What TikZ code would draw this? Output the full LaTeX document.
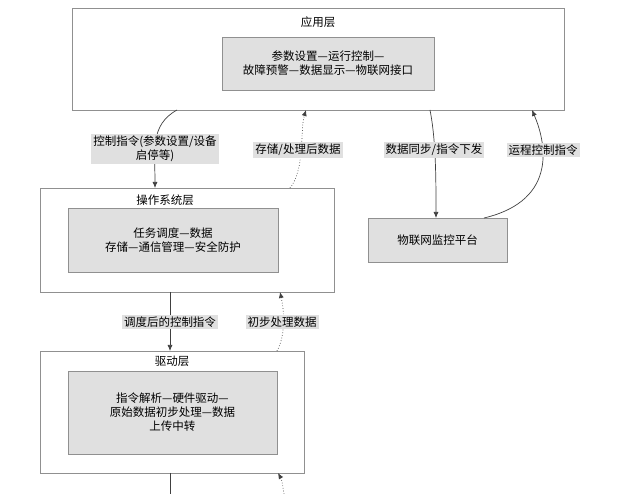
\documentclass[tikz,border=0pt]{standalone}
\usepackage{fontspec}
\setmainfont{Noto Sans CJK SC}
\usetikzlibrary{arrows.meta,calc}
\definecolor{boxgray}{HTML}{E0E0E0}
\definecolor{linegray}{HTML}{909090}
\tikzset{
  layer/.style={draw=linegray,fill=white,line width=0.8pt},
  core/.style={draw=linegray,fill=boxgray,line width=0.8pt,align=center,inner sep=0pt},
  tag/.style={fill=boxgray,inner sep=2pt,align=center},
  flow/.style={-{Latex[length=6pt,width=5pt]},line width=0.7pt,draw=black!75},
  back/.style={flow,dotted}
}
\begin{document}
\begin{tikzpicture}[x=1pt,y=-1pt,font=\fontsize{11.5}{14}\selectfont]
  \useasboundingbox (0,0) rectangle (630,494);
  % layers
  \draw[layer] (72,8) rectangle (564,110);
  \node (app) at (318,22) {应用层};
  \node[core,minimum width=212pt,minimum height=53pt] (appc) at (328,63.5) {参数设置—运行控制—\\故障预警—数据显示—物联网接口};
  \draw[layer] (40,188) rectangle (334,292);
  \node (os) at (165,200) {操作系统层};
  \node[core,minimum width=210pt,minimum height=64pt] (osc) at (173,240) {任务调度—数据\\存储—通信管理—安全防护};
  \draw[layer] (40,351) rectangle (304,473);
  \node (drv) at (172,361) {驱动层};
  \node[core,minimum width=209pt,minimum height=83pt] (drvc) at (172.5,412.5) {指令解析—硬件驱动—\\原始数据初步处理—数据\\上传中转};
  \node[core,minimum width=139pt,minimum height=44pt] (iot) at (437.5,240) {物联网监控平台};
  % anchors on the layer borders
  \coordinate (a1) at (177,110); \coordinate (o1) at (155,188);
  \coordinate (o2) at (290,188); \coordinate (a2) at (306,110);
  \coordinate (a3) at (430,110); \coordinate (p1) at (436,218);
  \coordinate (p2) at (484,218); \coordinate (a4) at (532,110);
  \coordinate (o3) at (170,292); \coordinate (d1) at (170,351);
  \coordinate (d2) at (277,351); \coordinate (o4) at (280,292);
  \coordinate (d3) at (170,473); \coordinate (b1) at (170,494);
  \coordinate (b2) at (284,494); \coordinate (d4) at (278,473);
  % connectors
  \draw[flow] (a1) .. controls (150,125) and (155,150) .. (o1);
  \draw[back] (o2) .. controls (305,170) and (300,130) .. (a2);
  \draw[flow] (a3) .. controls (436,140) and (436,180) .. (p1);
  \draw[flow] (p2) .. controls (560,200) and (545,140) .. (a4);
  \draw[flow] (o3) -- (d1);
  \draw[back] (d2) .. controls (286,335) and (284,310) .. (o4);
  \draw[flow,-] (d3) -- (b1);
  \draw[back] (b2) .. controls (283,488) and (282,480) .. (d4);
  % labels
  \node[tag] (t1) at (155,149) {控制指令(参数设置/设备\\启停等)};
  \node[tag] (t2) at (298,150) {存储/处理后数据};
  \node[tag] (t3) at (434,150) {数据同步/指令下发};
  \node[tag] (t4) at (543,150) {运程控制指令};
  \node[tag] (t5) at (170,322) {调度后的控制指令};
  \node[tag] (t6) at (282,322) {初步处理数据};
\end{tikzpicture}
\end{document}
